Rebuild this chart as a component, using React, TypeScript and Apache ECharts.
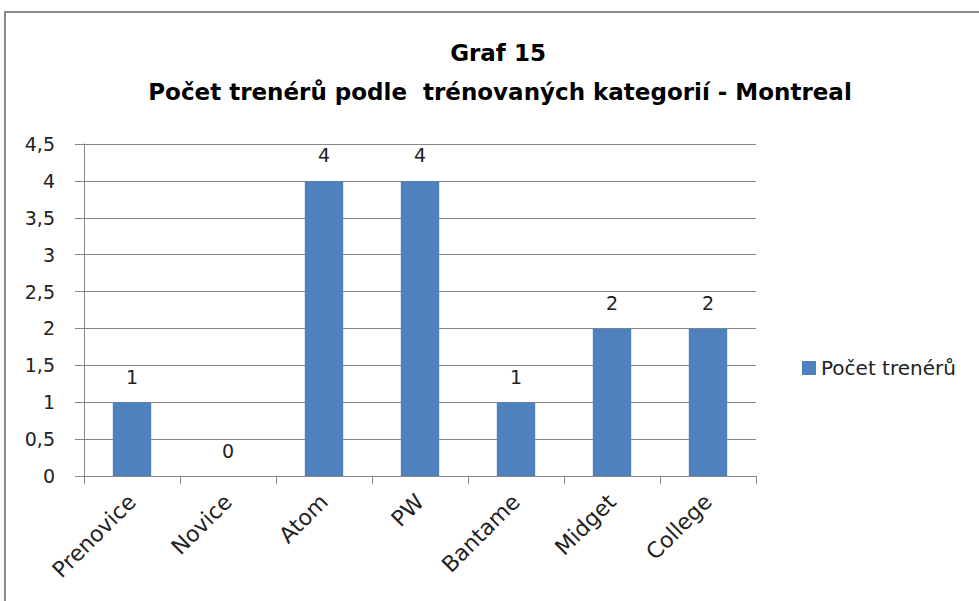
import React, { useEffect, useRef } from "react";
import * as echarts from "echarts";

const titleLine1 = "Graf 15";
const titleLine2 = "Počet trenérů podle  trénovaných kategorií - Montreal";
const categories = ["Prenovice", "Novice", "Atom", "PW", "Bantame", "Midget", "College"];
const seriesName = "Počet trenérů";
const values = [1, 0, 4, 4, 1, 2, 2];

const FONT = "'DejaVu Sans', sans-serif";

export default function App() {
  const ref = useRef<HTMLDivElement>(null);
  useEffect(() => {
    if (!ref.current) return;
    const chart = echarts.init(ref.current, null, { renderer: "svg" });
    chart.setOption({
      animation: false,
      backgroundColor: "#ffffff",
      graphic: [
        {
          type: "rect",
          shape: { x: 5, y: 12, width: 1000, height: 620 },
          style: { fill: "none", stroke: "#8c8c8c", lineWidth: 2 },
          silent: true,
        },
        {
          type: "text",
          x: 498,
          y: 53,
          style: {
            text: titleLine1,
            font: `bold 23px ${FONT}`,
            fill: "#000",
            align: "center",
            verticalAlign: "middle",
          },
        },
        {
          type: "text",
          x: 500,
          y: 92,
          style: {
            text: titleLine2,
            font: `bold 23px ${FONT}`,
            fill: "#000",
            align: "center",
            verticalAlign: "middle",
          },
        },
      ],
      legend: {
        show: true,
        left: 797,
        top: 353,
        itemWidth: 14,
        itemHeight: 14,
        itemGap: 6,
        icon: "rect",
        textStyle: { fontFamily: FONT, fontSize: 20, color: "#222" },
        data: [seriesName],
      },
      grid: { left: 84, top: 144, right: 223, bottom: 125, containLabel: false },
      xAxis: {
        type: "category",
        data: categories,
        axisLine: { show: true, lineStyle: { color: "#868686", width: 1 } },
        axisTick: { show: true, alignWithLabel: false, length: 8, lineStyle: { color: "#868686" } },
        axisLabel: {
          rotate: 45,
          interval: 0,
          margin: 22,
          fontFamily: FONT,
          fontSize: 22,
          color: "#222",
        },
        splitLine: { show: false },
      },
      yAxis: {
        type: "value",
        min: 0,
        max: 4.5,
        interval: 0.5,
        axisLine: { show: true, lineStyle: { color: "#868686", width: 1 } },
        axisTick: { show: true, length: 9, lineStyle: { color: "#868686" } },
        axisLabel: {
          margin: 29,
          fontFamily: FONT,
          fontSize: 19,
          color: "#222",
          formatter: (v: number) => String(v).replace(".", ","),
        },
        splitLine: { show: true, lineStyle: { color: "#868686", width: 1 } },
      },
      series: [
        {
          name: seriesName,
          type: "bar",
          data: values,
          barWidth: "40%",
          itemStyle: { color: "#4F81BD" },
          label: {
            show: true,
            position: "top",
            distance: 16,
            fontFamily: FONT,
            fontSize: 19,
            color: "#222",
          },
        },
      ],
    });
    return () => chart.dispose();
  }, []);
  return (
    <div
      ref={ref}
      style={{ position: "fixed", left: 0, top: 0, width: 979, height: 601 }}
    />
  );
}
